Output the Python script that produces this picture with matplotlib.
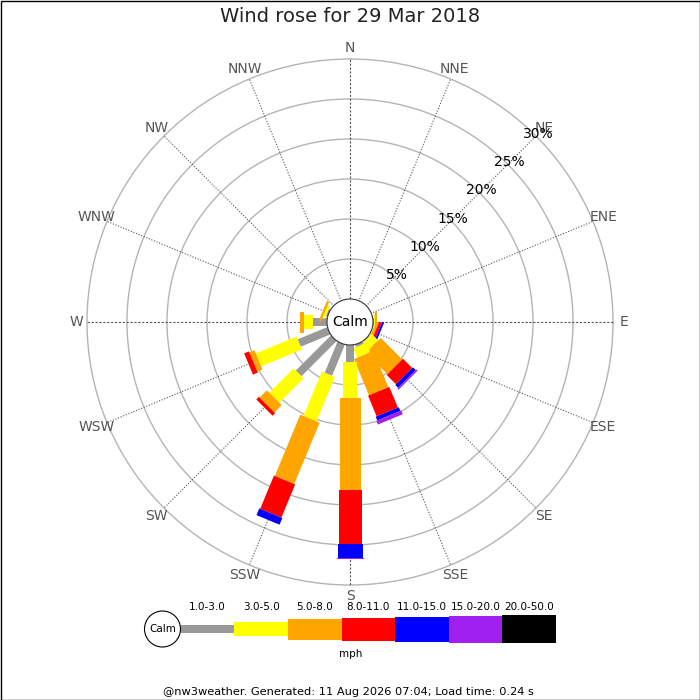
import numpy as np
import matplotlib
matplotlib.use("Agg")
import matplotlib.pyplot as plt
from matplotlib.patches import Polygon, Circle, Rectangle

# Wind rose data: percent of time per direction and speed band
directions = ["N", "NNE", "NE", "ENE", "E", "ESE", "SE", "SSE",
              "S", "SSW", "SW", "WSW", "W", "WNW", "NW", "NNW"]
speed_bins = ["1.0-3.0", "3.0-5.0", "5.0-8.0", "8.0-11.0",
              "11.0-15.0", "15.0-20.0", "20.0-50.0"]
bin_colors = ["#999999", "#ffff00", "#ffa500", "#ff0000",
              "#0000ff", "#a020f0", "#000000"]
bin_widths = [8, 14, 21, 23, 25, 27, 28]   # bar thickness in px

#            N   NNE  NE  ENE   E    ESE   SE   SSE   S    SSW  SW   WSW  W    WNW  NW  NNW
spd_1_3   = [0,  0,   0,  0,   0.10, 0.05, 0.10, 0.30, 2.1, 4.2, 6.2, 4.0, 1.7, 0.2, 0, 0]
spd_3_5   = [0,  0,   0,  0,   0.15, 0.10, 1.15, 1.30, 4.5, 6.0, 4.3, 5.5, 1.2, 0.3, 0, 0]
spd_5_8   = [0,  0,   0,  0,   0.25, 0.35, 3.80, 4.90, 11.5, 8.3, 1.3, 0.7, 0.5, 0.3, 0, 0]
spd_8_11  = [0,  0,   0,  0,   0,    0.35, 1.65, 2.80, 6.8, 4.5, 0.45, 0.65, 0, 0, 0, 0]
spd_11_15 = [0,  0,   0,  0,   0,    0.25, 0.50, 0.50, 1.7, 0.9, 0, 0, 0, 0, 0, 0]
spd_15_20 = [0,  0,   0,  0,   0,    0,    0.20, 0.50, 0.15, 0, 0, 0, 0, 0, 0, 0]
spd_20_50 = [0] * 16

ring_labels = ["5%", "10%", "15%", "20%", "25%", "30%"]
ring_values = [5, 10, 15, 20, 25, 30]

title = "Wind rose for 29 Mar 2018"
footer = "@nw3weather. Generated: 11 Aug 2026 07:04; Load time: 0.24 s"

table = np.array([spd_1_3, spd_3_5, spd_5_8, spd_8_11,
                  spd_11_15, spd_15_20, spd_20_50])

# layout (pixels)
cx, cy = 350, 322
r0 = 23          # calm circle radius
k = 8            # px per percent


def rad(p):
    return r0 + k * p


fig = plt.figure(figsize=(7, 7), dpi=100)
ax = fig.add_axes([0, 0, 1, 1])
ax.set_xlim(0, 700)
ax.set_ylim(700, 0)
ax.axis("off")

# rings
for v in ring_values:
    ax.add_patch(Circle((cx, cy), rad(v), fill=False, ec="#b4b4b4", lw=1, zorder=1))

# spokes + compass labels
for i, d in enumerate(directions):
    th = np.deg2rad(22.5 * i)
    ux, uy = np.sin(th), -np.cos(th)
    ls = (0, (2, 1.5)) if i % 4 == 0 else (0, (1, 1.5))
    ax.plot([cx, cx + ux * rad(30)], [cy, cy + uy * rad(30)],
            color="#555555", lw=0.8, ls=ls, zorder=1)
    ax.text(cx + ux * 274, cy + uy * 274, d, ha="center", va="center",
            fontsize=10, color="#555555")

# percent labels along NE
for v, lab in zip(ring_values, ring_labels):
    th = np.deg2rad(45)
    ax.text(cx + np.sin(th) * (rad(v) + 3), cy - np.cos(th) * (rad(v) + 3), lab,
            ha="center", va="center", fontsize=10, color="black", zorder=3)

# bars
for i in range(len(directions)):
    th = np.deg2rad(22.5 * i)
    ux, uy = np.sin(th), -np.cos(th)
    px, py = -uy, ux
    start = 0.0
    for b in range(len(speed_bins)):
        val = table[b, i]
        if val <= 0:
            continue
        a, e = rad(start), rad(start + val)
        h = bin_widths[b] / 2
        pts = [(cx + ux * a + px * h, cy + uy * a + py * h),
               (cx + ux * e + px * h, cy + uy * e + py * h),
               (cx + ux * e - px * h, cy + uy * e - py * h),
               (cx + ux * a - px * h, cy + uy * a - py * h)]
        ax.add_patch(Polygon(pts, closed=True, fc=bin_colors[b], ec="none", zorder=2))
        start += val

# calm circle
ax.add_patch(Circle((cx, cy), r0, fc="white", ec="#333333", lw=0.8, zorder=4))
ax.text(cx, cy, "Calm", ha="center", va="center", fontsize=10, zorder=5)

# legend
lx0, ly = 180.7, 629
seg = 53.6
ax.add_patch(Circle((162.5, ly), 18, fc="white", ec="black", lw=0.8, zorder=4))
ax.text(162.5, ly, "Calm", ha="center", va="center", fontsize=7.5, zorder=5)
for b, lab in enumerate(speed_bins):
    x0 = lx0 + b * seg
    h = bin_widths[b]
    ax.add_patch(Rectangle((x0, ly - h / 2), seg, h, fc=bin_colors[b], ec="none"))
    ax.text(x0 + seg / 2, 607, lab, ha="center", va="center", fontsize=7.5)
ax.text(351, 654, "mph", ha="center", va="center", fontsize=7.5)

ax.text(350, 17, title, ha="center", va="center", fontsize=14, color="#222222")
ax.text(348, 692, footer, ha="center", va="center", fontsize=8.2)

# border
ax.add_patch(Rectangle((0.5, 0.5), 699, 699, fill=False, ec="black", lw=1))

fig.savefig("out.png", dpi=100)
